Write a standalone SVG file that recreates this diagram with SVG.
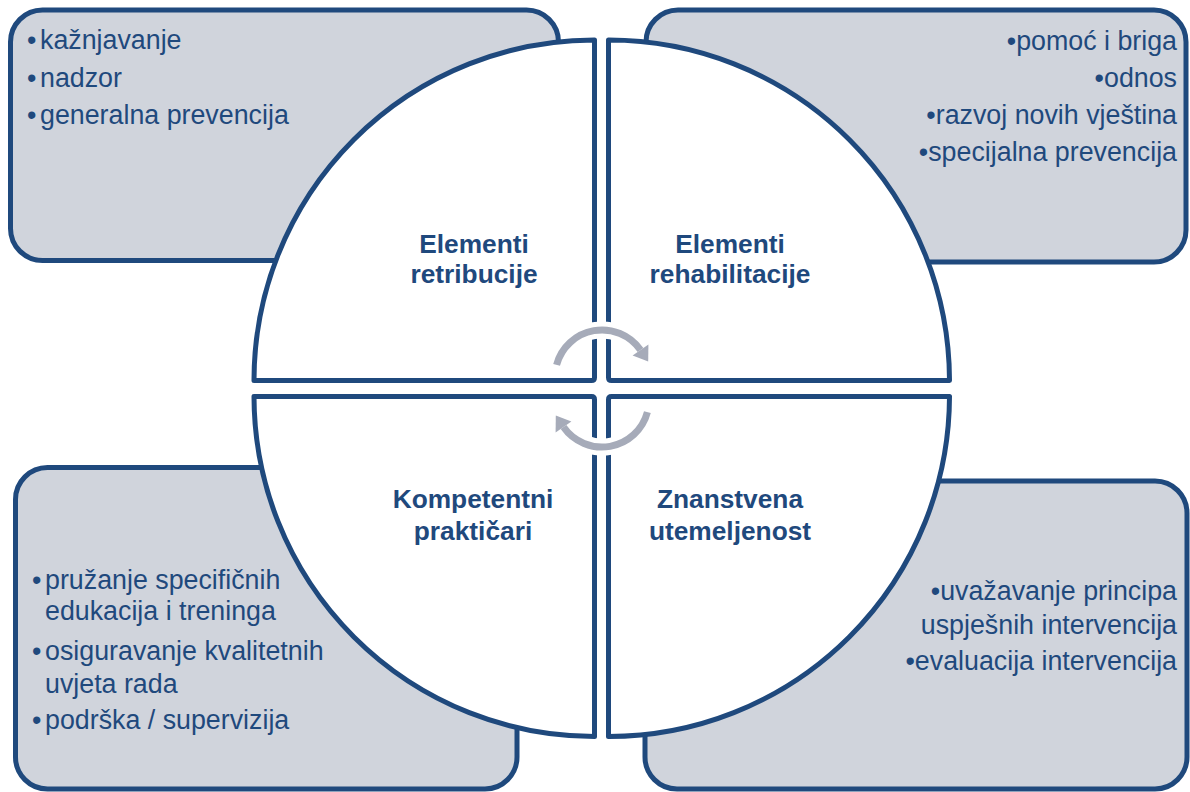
<svg xmlns="http://www.w3.org/2000/svg" width="1190" height="792" viewBox="0 0 1190 792">
<defs>
<style>
.box{fill:#D0D4DC;stroke:#1F497D;stroke-width:5}
.quad{fill:#FFFFFF;stroke:#1F497D;stroke-width:5;stroke-linejoin:round}
.txt{font-family:"Liberation Sans",Arial,sans-serif;font-size:26.8px;fill:#1F497D}
.lbl{font-family:"Liberation Sans",Arial,sans-serif;font-size:26.3px;font-weight:bold;fill:#1F497D;text-anchor:middle}
.end{text-anchor:end}
.halo{fill:none;stroke:#FFFFFF;stroke-width:17}
.arc{fill:none;stroke:#A6ABB9;stroke-width:7}
.head{fill:#A6ABB9}
</style>
</defs>
<rect width="1190" height="792" fill="#FFFFFF"/>

<g id="box-retribucija">
<rect class="box" x="10.5" y="10" width="548" height="250.5" rx="32"/>
<text class="txt" x="27" y="49">•<tspan x="40">kažnjavanje</tspan></text>
<text class="txt" x="27" y="87">•<tspan x="40">nadzor</tspan></text>
<text class="txt" x="27" y="124">•<tspan x="40">generalna prevencija</tspan></text>
</g>

<g id="box-rehabilitacija">
<rect class="box" x="646" y="10" width="540" height="252" rx="32"/>
<text class="txt end" x="1177" y="50">•pomoć i briga</text>
<text class="txt end" x="1177" y="87">•odnos</text>
<text class="txt end" x="1177" y="124">•razvoj novih vještina</text>
<text class="txt end" x="1177" y="161">•specijalna prevencija</text>
</g>

<g id="box-prakticari">
<rect class="box" x="15.5" y="467.5" width="501.5" height="321.5" rx="32"/>
<text class="txt" x="32" y="589">•<tspan x="45">pružanje specifičnih</tspan></text>
<text class="txt" x="45" y="620">edukacija i treninga</text>
<text class="txt" x="32" y="660">•<tspan x="45">osiguravanje kvalitetnih</tspan></text>
<text class="txt" x="45" y="693">uvjeta rada</text>
<text class="txt" x="32" y="729">•<tspan x="45">podrška / supervizija</tspan></text>
</g>

<g id="box-znanstvenost">
<rect class="box" x="645" y="481" width="542" height="308" rx="32"/>
<text class="txt end" x="1177" y="600">•uvažavanje principa</text>
<text class="txt end" x="1177" y="634">uspješnih intervencija</text>
<text class="txt end" x="1177" y="670">•evaluacija intervencija</text>
</g>

<g id="quad-retribucija">
<path class="quad" d="M254 380.5 A340.5 340.5 0 0 1 594.5 40 L594.5 377.5 Q594.5 380.5 591.5 380.5 Z"/>
<text class="lbl" x="474" y="253">Elementi</text>
<text class="lbl" x="474" y="283">retribucije</text>
</g>

<g id="quad-rehabilitacija">
<path class="quad" d="M608.5 40 A341 341 0 0 1 949.5 380.5 L611.5 380.5 Q608.5 380.5 608.5 377.5 Z"/>
<text class="lbl" x="730" y="253">Elementi</text>
<text class="lbl" x="730" y="283">rehabilitacije</text>
</g>

<g id="quad-prakticari">
<path class="quad" d="M594.5 736.5 A340.5 340.5 0 0 1 254 396.5 L591.5 396.5 Q594.5 396.5 594.5 399.5 Z"/>
<text class="lbl" x="473" y="508">Kompetentni</text>
<text class="lbl" x="473" y="540">praktičari</text>
</g>

<g id="quad-znanstvenost">
<path class="quad" d="M949.5 396.5 A341 341 0 0 1 608.5 736.5 L608.5 399.5 Q608.5 396.5 611.5 396.5 Z"/>
<text class="lbl" x="730" y="508">Znanstvena</text>
<text class="lbl" x="730" y="540">utemeljenost</text>
</g>

<g id="connectors">
<path class="halo" d="M556.6 364.8 A47 47 0 0 1 640.5 350"/>
<path class="halo" d="M647.4 412.2 A47 47 0 0 1 563.5 427"/>
<path class="arc" d="M556.6 364.8 A47 47 0 0 1 640.5 350"/>
<polygon class="head" points="648.4,344.4 632.6,355.6 648.2,361.4"/>
<path class="arc" d="M647.4 412.2 A47 47 0 0 1 563.5 427"/>
<polygon class="head" points="555.6,432.6 571.4,421.4 555.8,415.6"/>
</g>
</svg>
